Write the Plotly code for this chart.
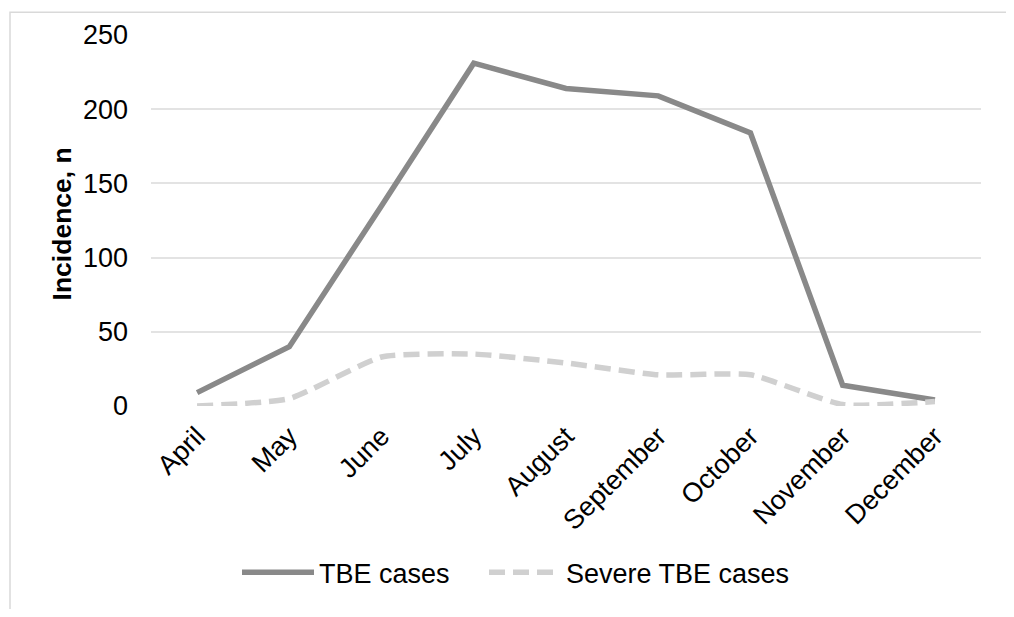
import plotly.graph_objects as go

months = ["April", "May", "June", "July", "August", "September", "October", "November", "December"]
tbe_cases = [9, 40, 135, 231, 214, 209, 184, 14, 4]
severe_cases = [0, 5, 33, 35, 29, 21, 21, 1, 3]
y_ticks = [0, 50, 100, 150, 200, 250]

# page has an 8px body margin; figure sized to fit the 1014x617 window
OFF = 8
W, H = 1014 - 2 * OFF, 617 - 2 * OFF
L, T = 151 - OFF, 35 - OFF
R = W - (981 - OFF)
B = H - (411 - OFF)
pw, ph = W - L - R, H - T - B

def px_x(page_x):
    return (page_x - OFF - L) / pw

def px_y(page_y):
    return (411 - page_y) / ph

fig = go.Figure()
fig.add_trace(go.Scatter(
    x=months, y=tbe_cases, name="TBE cases", mode="lines", legend="legend",
    line=dict(color="#898989", width=5.5),
))
fig.add_trace(go.Scatter(
    x=months, y=severe_cases, name="Severe TBE cases", mode="lines", legend="legend2",
    line=dict(color="#d0d0d0", width=5.5, dash="16px,8px", shape="spline", smoothing=0.5),
))

leg_common = dict(orientation="h", xanchor="left", y=px_y(580), yanchor="middle",
                  font=dict(size=27), itemwidth=72, bgcolor="rgba(0,0,0,0)")

fig.update_layout(
    width=W, height=H,
    margin=dict(l=L, r=R, t=T, b=B),
    paper_bgcolor="white", plot_bgcolor="white",
    font=dict(family="Liberation Sans, Arial, sans-serif", size=27, color="#000000"),
    showlegend=True,
    legend=dict(x=px_x(237), **leg_common),
    legend2=dict(x=px_x(484), **leg_common),
    xaxis=dict(
        type="category", range=[-0.5, len(months) - 0.5], tickangle=-45,
        showgrid=False, zeroline=False, showline=False, ticks="", tickfont=dict(size=27),
        ticklabelstandoff=8,
    ),
    yaxis=dict(
        range=[0, 250], tickvals=y_ticks, showgrid=True, gridcolor="#e3e3e3", gridwidth=1.5,
        zeroline=False, showline=False, ticks="", tickfont=dict(size=27),
        ticklabelstandoff=22,
    ),
    annotations=[dict(
        text="<b>Incidence, n</b>", textangle=-90, showarrow=False,
        xref="paper", yref="paper", x=px_x(62), y=px_y(227),
        xanchor="center", yanchor="middle", font=dict(size=26.5),
    )],
    shapes=[dict(
        type="rect", xref="paper", yref="paper",
        x0=px_x(10), x1=px_x(1008),
        y0=px_y(12), y1=px_y(660),
        line=dict(color="#d9d9d9", width=1.5), fillcolor="rgba(0,0,0,0)", layer="below",
    )],
)

fig.write_html("out.html")
